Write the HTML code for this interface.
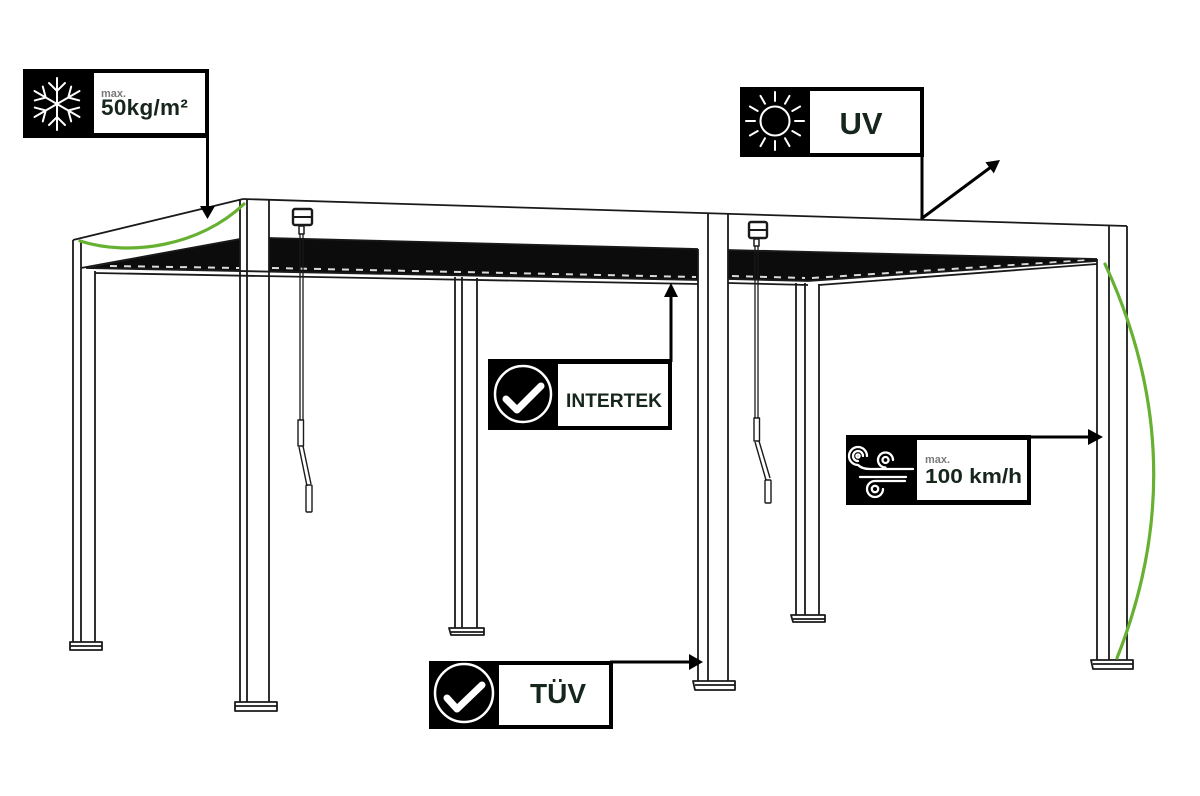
<!DOCTYPE html>
<html><head><meta charset="utf-8">
<style>
html,body{margin:0;padding:0;background:#fff;}
svg{display:block;}
text{font-family:"Liberation Sans",sans-serif;}
</style></head>
<body>
<svg width="1200" height="796" viewBox="0 0 1200 796" xmlns="http://www.w3.org/2000/svg">
<rect width="1200" height="796" fill="#fff"/>

<!-- ROOF SLATS (dark) -->
<g fill="#0c0c0c">
  <polygon points="86,268 240,239 240,271"/>
  <polygon points="269,238 698,249 698,280 269,271"/>
  <polygon points="728,250 1097,259 1097,261 808,281 728,279"/>
</g>
<g stroke="#fff" stroke-width="2" stroke-dasharray="7 7" fill="none" opacity="0.85">
  <line x1="110" y1="266" x2="240" y2="268"/>
  <line x1="272" y1="268" x2="696" y2="277"/>
  <line x1="732" y1="276" x2="805" y2="278"/>
  <line x1="812" y1="278" x2="1090" y2="260"/>
</g>

<g stroke="#1a1a1a" stroke-width="1.8" fill="none" stroke-linejoin="round">
  <!-- back beam strip lines -->
  <line x1="86" y1="268" x2="698" y2="280"/>
  <line x1="95" y1="273" x2="698" y2="284"/>
  <line x1="728" y1="279" x2="808" y2="281"/>
  <line x1="728" y1="283" x2="808" y2="285"/>
  <line x1="808" y1="281" x2="1097" y2="261"/>
  <line x1="819" y1="285" x2="1097" y2="264"/>

  <!-- left side beam -->
  <line x1="73" y1="240" x2="243" y2="199"/>
  <line x1="81" y1="268" x2="240" y2="239"/>
  <!-- front beam -->
  <line x1="243" y1="199" x2="1127" y2="226"/>
  <line x1="269" y1="238" x2="698" y2="249"/>
  <line x1="728" y1="250" x2="1097" y2="259"/>

  <!-- back-left post -->
  <line x1="73" y1="240" x2="73" y2="642"/>
  <line x1="81" y1="240" x2="81" y2="642"/>
  <line x1="95" y1="271" x2="95" y2="642"/>
  <!-- back-middle post -->
  <line x1="455" y1="277" x2="455" y2="628"/>
  <line x1="462" y1="277" x2="462" y2="628"/>
  <line x1="477" y1="278" x2="477" y2="628"/>
  <!-- back-right post -->
  <line x1="796" y1="283" x2="796" y2="615"/>
  <line x1="805" y1="283" x2="805" y2="615"/>
  <line x1="819" y1="284" x2="819" y2="615"/>

  <!-- front-left post -->
  <line x1="240" y1="200" x2="240" y2="702"/>
  <line x1="247" y1="199" x2="247" y2="702"/>
  <line x1="269" y1="200" x2="269" y2="702"/>
  <!-- front-middle post -->
  <line x1="698" y1="249" x2="698" y2="682"/>
  <line x1="708" y1="213" x2="708" y2="682"/>
  <line x1="728" y1="214" x2="728" y2="682"/>
  <!-- front-right post -->
  <line x1="1097" y1="259" x2="1097" y2="660"/>
  <line x1="1109" y1="225" x2="1109" y2="660"/>
  <line x1="1127" y1="226" x2="1127" y2="660"/>

  <!-- bases -->
  <path d="M70,642 L102,642 L102,650 L70,650 Z M70,646 L102,646" fill="#fff"/>
  <path d="M449,628 L484,628 L484,635 L451,635 Z M451,632 L484,632" fill="#fff"/>
  <path d="M791,615 L825,615 L825,622 L793,622 Z M793,619 L825,619" fill="#fff"/>
  <path d="M235,702 L277,702 L277,711 L235,711 Z M235,706 L277,706" fill="#fff"/>
  <path d="M693,681 L735,681 L735,690 L695,690 Z M695,685 L735,685" fill="#fff"/>
  <path d="M1091,660 L1133,660 L1133,669 L1093,669 Z M1093,664 L1133,664" fill="#fff"/>

  <!-- left crank -->
  <rect x="293" y="209" width="19" height="16" rx="2" stroke-width="2.4"/>
  <line x1="293" y1="217" x2="312" y2="217" stroke-width="2"/>
  <rect x="299" y="226" width="5" height="8" stroke-width="1.5"/>
  <line x1="300" y1="234" x2="300" y2="420" stroke-width="1.3"/>
  <line x1="303" y1="234" x2="303" y2="420" stroke-width="1.3"/>
  <rect x="298" y="420" width="5.5" height="26" stroke-width="1.4"/>
  <path d="M299,447 L307,486 M303,446 L311,484" stroke-width="1.4"/>
  <rect x="306" y="485" width="6" height="27" rx="1" stroke-width="1.4"/>

  <!-- right crank -->
  <rect x="749" y="222" width="18" height="16" rx="2" stroke-width="2.4"/>
  <line x1="749" y1="230" x2="767" y2="230" stroke-width="2"/>
  <rect x="754" y="239" width="5" height="7" stroke-width="1.5"/>
  <line x1="755" y1="246" x2="755" y2="418" stroke-width="1.3"/>
  <line x1="758" y1="246" x2="758" y2="418" stroke-width="1.3"/>
  <rect x="754" y="418" width="5.5" height="23" stroke-width="1.4"/>
  <path d="M755,442 L766,480 M759,441 L770,478" stroke-width="1.4"/>
  <rect x="765" y="480" width="6" height="23" rx="1" stroke-width="1.4"/>
</g>

<!-- GREEN CURVES -->
<g stroke="#66b032" stroke-width="3.2" fill="none" stroke-linecap="round">
  <path d="M80,241 C130,257 200,246 244,204"/>
  <path d="M1105,264 Q1196,460 1117,658"/>
</g>

<!-- CONNECTORS -->
<g stroke="#000" stroke-width="3" fill="none">
  <line x1="207.5" y1="136" x2="207.5" y2="208"/>
  <line x1="922" y1="155" x2="922" y2="219"/>
  <line x1="921" y1="219" x2="991" y2="167"/>
  <line x1="671" y1="296" x2="671" y2="362"/>
  <line x1="1028" y1="437" x2="1090" y2="437"/>
  <line x1="610" y1="662" x2="690" y2="662"/>
</g>
<g fill="#000">
  <polygon points="200,206 215,206 207.5,219"/>
  <polygon points="1000,160 993.8,173.4 985.4,162.2"/>
  <polygon points="664,297 678,297 671,283"/>
  <polygon points="1088,429 1088,445 1103,437"/>
  <polygon points="689,654 689,670 703,662"/>
</g>

<!-- LABEL: SNOW -->
<rect x="23" y="69" width="186" height="69" fill="#000"/>
<rect x="94" y="73" width="111" height="60" fill="#fff"/>
<g stroke="#fff" stroke-width="2" fill="none" stroke-linecap="round" transform="translate(57,104)">
  <g><line x1="0" y1="0" x2="0" y2="-26"/><polyline points="-8,-21 0,-13 8,-21"/></g>
  <g transform="rotate(60)"><line x1="0" y1="0" x2="0" y2="-26"/><polyline points="-8,-21 0,-13 8,-21"/></g>
  <g transform="rotate(120)"><line x1="0" y1="0" x2="0" y2="-26"/><polyline points="-8,-21 0,-13 8,-21"/></g>
  <g transform="rotate(180)"><line x1="0" y1="0" x2="0" y2="-26"/><polyline points="-8,-21 0,-13 8,-21"/></g>
  <g transform="rotate(240)"><line x1="0" y1="0" x2="0" y2="-26"/><polyline points="-8,-21 0,-13 8,-21"/></g>
  <g transform="rotate(300)"><line x1="0" y1="0" x2="0" y2="-26"/><polyline points="-8,-21 0,-13 8,-21"/></g>
</g>
<text x="101" y="97" font-size="11" font-weight="bold" fill="#7a7a7a">max.</text>
<text x="101" y="115" font-size="22.5" font-weight="bold" fill="#17261d" letter-spacing="0.3">50kg/m²</text>

<!-- LABEL: UV -->
<rect x="740" y="87" width="184" height="70" fill="#000"/>
<rect x="810" y="91" width="110" height="62" fill="#fff"/>
<g stroke="#fff" stroke-width="2" fill="none" transform="translate(775,121)">
  <circle cx="0" cy="0" r="14.5"/>
  <g stroke-linecap="round">
    <line x1="0" y1="-20" x2="0" y2="-29"/>
    <line x1="0" y1="20" x2="0" y2="29"/>
    <line x1="-20" y1="0" x2="-29" y2="0"/>
    <line x1="20" y1="0" x2="29" y2="0"/>
    <line x1="10" y1="-17.3" x2="14.5" y2="-25.1"/>
    <line x1="-10" y1="-17.3" x2="-14.5" y2="-25.1"/>
    <line x1="10" y1="17.3" x2="14.5" y2="25.1"/>
    <line x1="-10" y1="17.3" x2="-14.5" y2="25.1"/>
    <line x1="17.3" y1="-10" x2="25.1" y2="-14.5"/>
    <line x1="-17.3" y1="-10" x2="-25.1" y2="-14.5"/>
    <line x1="17.3" y1="10" x2="25.1" y2="14.5"/>
    <line x1="-17.3" y1="10" x2="-25.1" y2="14.5"/>
  </g>
</g>
<text x="861" y="134" font-size="31" font-weight="bold" fill="#17261d" text-anchor="middle">UV</text>

<!-- LABEL: INTERTEK -->
<rect x="488" y="359" width="184" height="71" fill="#000"/>
<rect x="558" y="364" width="110" height="62" fill="#fff"/>
<circle cx="523" cy="394" r="28" stroke="#fff" stroke-width="2.5" fill="none"/>
<polyline points="506,399 517,410 541,386" stroke="#fff" stroke-width="7" fill="none" stroke-linecap="round" stroke-linejoin="round"/>
<text x="566" y="407" font-size="19.5" font-weight="bold" fill="#17261d" textLength="96" lengthAdjust="spacingAndGlyphs">INTERTEK</text>

<!-- LABEL: WIND -->
<rect x="846" y="435" width="185" height="70" fill="#000"/>
<rect x="917" y="440" width="110" height="60" fill="#fff"/>
<g stroke="#fff" stroke-width="2.3" fill="none" stroke-linecap="round">
  <path d="M867,456 A9,9 0 1,0 858,465 Q862,469 870,469 L913,469"/>
  <path d="M863,456 A5,5 0 1,0 858,461"/>
  <circle cx="858" cy="456" r="1.6"/>
  <path d="M893,460 A7.5,7.5 0 1,0 885.5,467.5"/>
  <circle cx="885.5" cy="460" r="3"/>
  <line x1="860" y1="477" x2="906" y2="477"/>
  <path d="M905,481 L875,481 A8,8 0 1,0 883,489"/>
  <circle cx="875" cy="489" r="3.2"/>
</g>
<text x="925" y="463" font-size="11" font-weight="bold" fill="#7a7a7a">max.</text>
<text x="925" y="483" font-size="20" font-weight="bold" fill="#17261d" textLength="97" lengthAdjust="spacingAndGlyphs">100 km/h</text>

<!-- LABEL: TUV -->
<rect x="429" y="661" width="184" height="68" fill="#000"/>
<rect x="499" y="665" width="110" height="60" fill="#fff"/>
<circle cx="464" cy="693" r="29" stroke="#fff" stroke-width="2.5" fill="none"/>
<polyline points="447,698 457,709 482,685" stroke="#fff" stroke-width="7" fill="none" stroke-linecap="round" stroke-linejoin="round"/>
<text x="558" y="703" font-size="28" font-weight="bold" fill="#17261d" text-anchor="middle">TÜV</text>
</svg>
</body></html>
